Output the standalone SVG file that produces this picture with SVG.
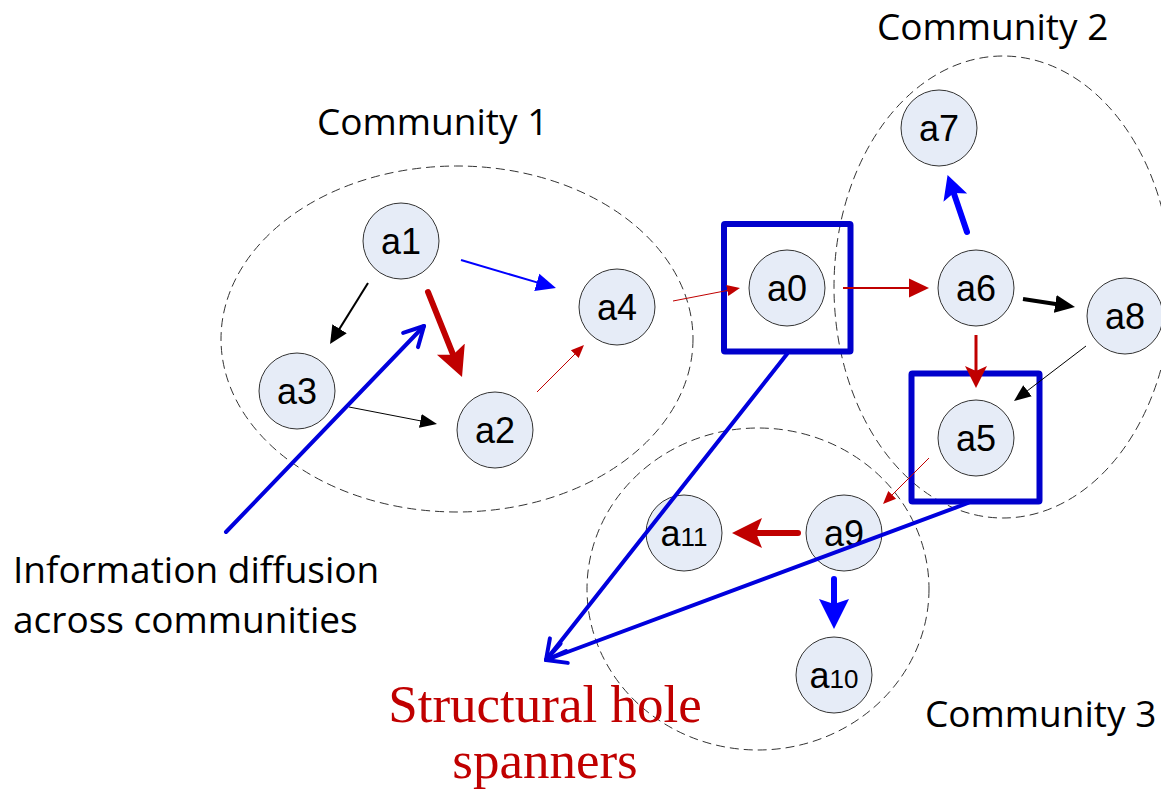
<svg xmlns="http://www.w3.org/2000/svg" width="1161" height="796" viewBox="0 0 1161 796">
  <style>
    .community { fill: none; stroke: #333; stroke-width: 1; stroke-dasharray: 9 5; }
    .node circle { fill: #e6ecf7; stroke: #333; stroke-width: 1; }
    .node text { font-family: "Liberation Sans", Arial, sans-serif; font-size: 36px; fill: #000; text-anchor: middle; }
    .node .sub { font-size: 26px; }
    .spanner { fill: none; stroke: #0000cc; stroke-width: 6; stroke-linejoin: round; }
    .label { font-family: "Open Sans", "Liberation Sans", sans-serif; font-size: 37px; fill: #000; }
    .title-red { font-family: "Liberation Serif", "Times New Roman", serif; font-size: 53px; fill: #c00000; text-anchor: middle; }
    .red { stroke: #c00000; fill: none; }
    .blk { stroke: #000; fill: none; }
    .blu { stroke: #0000ff; fill: none; }
    .pointer { stroke: #0000dd; stroke-width: 4; fill: none; stroke-linecap: round; }
  </style>
  <defs>
    <!-- filled heads; refX sits just inside the base so shafts tuck under -->
    <marker id="head-red-s" markerUnits="userSpaceOnUse" markerWidth="16" markerHeight="16" refX="1" refY="0" viewBox="0 -8 16 16" orient="auto">
      <path d="M0,-5.5 L13,0 L0,5.5 z" fill="#c00000"/>
    </marker>
    <marker id="head-red-m" markerUnits="userSpaceOnUse" markerWidth="22" markerHeight="22" refX="2" refY="0" viewBox="0 -11 22 22" orient="auto">
      <path d="M0,-9.5 L20,0 L0,9.5 z" fill="#c00000"/>
    </marker>
    <marker id="head-red-t" markerUnits="userSpaceOnUse" markerWidth="24" markerHeight="24" refX="5" refY="0" viewBox="0 -12 24 24" orient="auto">
      <path d="M0,-11 L22,0 L0,11 L5,0 z" fill="#c00000"/>
    </marker>
    <marker id="head-red-x" markerUnits="userSpaceOnUse" markerWidth="32" markerHeight="32" refX="6" refY="0" viewBox="0 -16 32 32" orient="auto">
      <path d="M0,-15 L30,0 L0,15 L6,0 z" fill="#c00000"/>
    </marker>
    <marker id="head-blk-s" markerUnits="userSpaceOnUse" markerWidth="20" markerHeight="20" refX="1" refY="0" viewBox="0 -10 20 20" orient="auto">
      <path d="M0,-7 L17,0 L0,7 z" fill="#000"/>
    </marker>
    <marker id="head-blk-m" markerUnits="userSpaceOnUse" markerWidth="22" markerHeight="22" refX="2" refY="0" viewBox="0 -11 22 22" orient="auto">
      <path d="M0,-8.5 L18,0 L0,8.5 z" fill="#000"/>
    </marker>
    <marker id="head-blk-t" markerUnits="userSpaceOnUse" markerWidth="22" markerHeight="22" refX="2" refY="0" viewBox="0 -11 22 22" orient="auto">
      <path d="M0,-9 L20,0 L0,9 z" fill="#000"/>
    </marker>
    <marker id="head-blu-m" markerUnits="userSpaceOnUse" markerWidth="22" markerHeight="22" refX="2" refY="0" viewBox="0 -11 22 22" orient="auto">
      <path d="M0,-9 L20,0 L0,9 z" fill="#0000ff"/>
    </marker>
    <marker id="head-blu-x" markerUnits="userSpaceOnUse" markerWidth="32" markerHeight="32" refX="5" refY="0" viewBox="0 -16 32 32" orient="auto">
      <path d="M0,-15 L30,0 L0,15 L5,0 z" fill="#0000ff"/>
    </marker>
    <marker id="head-blu-x2" markerUnits="userSpaceOnUse" markerWidth="28" markerHeight="28" refX="5" refY="0" viewBox="0 -14 28 28" orient="auto">
      <path d="M0,-12.5 L24,0 L0,12.5 L5,0 z" fill="#0000ff"/>
    </marker>
    <!-- open V head for the pointer lines -->
    <marker id="head-open" markerUnits="userSpaceOnUse" markerWidth="30" markerHeight="30" refX="0" refY="0" viewBox="-25 -15 30 30" orient="auto" overflow="visible">
      <path d="M-19.4,-10.3 L0,0 L-19.4,10.3" fill="none" stroke="#0000dd" stroke-width="4" stroke-linecap="round" stroke-linejoin="round"/>
    </marker>
  </defs>

  <!-- community outlines -->
  <g id="communities">
    <ellipse class="community" cx="457" cy="339" rx="236" ry="173"/>
    <ellipse class="community" cx="1003" cy="287" rx="169" ry="231"/>
    <ellipse class="community" cx="758" cy="589" rx="171" ry="161"/>
  </g>

  <!-- labels -->
  <g id="labels">
    <text class="label" x="317" y="135">Community 1</text>
    <text class="label" x="877" y="40">Community 2</text>
    <text class="label" x="925" y="727">Community 3</text>
    <text class="label" x="13" y="583">Information diffusion</text>
    <text class="label" x="13" y="633">across communities</text>
    <text class="title-red" x="545" y="722">Structural hole</text>
    <text class="title-red" x="545" y="778">spanners</text>
  </g>

  <!-- nodes -->
  <g id="node-a0" class="node">
    <rect class="spanner" x="724" y="224" width="126.5" height="127.5" rx="1"/>
    <circle cx="787" cy="288" r="38"/>
    <text x="787" y="301">a0</text>
  </g>
  <g id="node-a1" class="node">
    <circle cx="401" cy="241" r="38"/>
    <text x="401" y="254">a1</text>
  </g>
  <g id="node-a2" class="node">
    <circle cx="495" cy="430" r="38"/>
    <text x="495" y="443">a2</text>
  </g>
  <g id="node-a3" class="node">
    <circle cx="297" cy="391" r="38"/>
    <text x="297" y="404">a3</text>
  </g>
  <g id="node-a4" class="node">
    <circle cx="617" cy="307" r="38"/>
    <text x="617" y="320">a4</text>
  </g>
  <g id="node-a5" class="node">
    <rect class="spanner" x="911.5" y="373.5" width="128" height="128" rx="1"/>
    <circle cx="976" cy="438" r="38"/>
    <text x="976" y="451">a5</text>
  </g>
  <g id="node-a6" class="node">
    <circle cx="976" cy="288" r="38"/>
    <text x="976" y="301">a6</text>
  </g>
  <g id="node-a7" class="node">
    <circle cx="939" cy="128" r="38"/>
    <text x="939" y="141">a7</text>
  </g>
  <g id="node-a8" class="node">
    <circle cx="1125" cy="316" r="38"/>
    <text x="1125" y="329">a8</text>
  </g>
  <g id="node-a9" class="node">
    <circle cx="844" cy="533" r="38"/>
    <text x="844" y="546">a9</text>
  </g>
  <g id="node-a10" class="node">
    <circle cx="834" cy="675" r="38"/>
    <text x="834" y="688">a<tspan class="sub">10</tspan></text>
  </g>
  <g id="node-a11" class="node">
    <circle cx="684" cy="533" r="38"/>
    <text x="684" y="546">a<tspan class="sub">11</tspan></text>
  </g>

  <!-- connectors -->
  <g id="connectors" stroke-linecap="butt">
    <line class="blk" stroke-width="2" x1="368" y1="283" x2="338.5" y2="330.4" marker-end="url(#head-blk-m)"/>
    <line class="blu" stroke-width="2" x1="461" y1="260" x2="538.7" y2="282.9" marker-end="url(#head-blu-m)"/>
    <line class="red" stroke-width="6" stroke-linecap="round" x1="428" y1="292" x2="453.1" y2="354.7" marker-end="url(#head-red-x)"/>
    <line class="blk" stroke-width="1" x1="349" y1="407" x2="421.3" y2="421" marker-end="url(#head-blk-s)"/>
    <line class="red" stroke-width="1" x1="537" y1="392" x2="575.5" y2="353.5" marker-end="url(#head-red-s)"/>
    <line class="red" stroke-width="1" x1="673" y1="301" x2="728.2" y2="290.3" marker-end="url(#head-red-s)"/>
    <line class="red" stroke-width="2" x1="843" y1="288" x2="911" y2="288" marker-end="url(#head-red-m)"/>
    <line class="blu" stroke-width="6" stroke-linecap="round" x1="967" y1="232" x2="953.7" y2="192.9" marker-end="url(#head-blu-x2)"/>
    <line class="blk" stroke-width="4" x1="1023" y1="299" x2="1057.2" y2="304.3" marker-end="url(#head-blk-t)"/>
    <line class="red" stroke-width="3" x1="976" y1="335" x2="976" y2="371" marker-end="url(#head-red-t)"/>
    <line class="blk" stroke-width="1" x1="1086" y1="346" x2="1026.7" y2="391.3" marker-end="url(#head-blk-s)"/>
    <line class="red" stroke-width="1" x1="929" y1="458" x2="891.5" y2="495.5" marker-end="url(#head-red-s)"/>
    <line class="red" stroke-width="6" stroke-linecap="round" x1="798" y1="533" x2="756" y2="533" marker-end="url(#head-red-x)"/>
    <line class="blu" stroke-width="6" stroke-linecap="round" x1="834" y1="579" x2="834" y2="604" marker-end="url(#head-blu-x)"/>
    <!-- pointers to the spanners and the cross-community path -->
    <line class="pointer" x1="787" y1="354" x2="546" y2="660" marker-end="url(#head-open)"/>
    <line class="pointer" x1="968" y1="503" x2="546" y2="660" marker-end="url(#head-open)"/>
    <line class="pointer" x1="226" y1="532" x2="424" y2="326" marker-end="url(#head-open)"/>
  </g>
</svg>
